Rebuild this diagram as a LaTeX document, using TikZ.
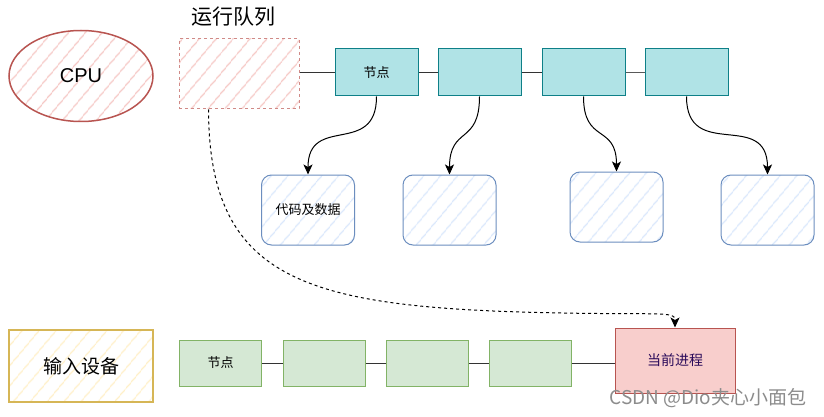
\documentclass[tikz,border=0pt]{standalone}
\usepackage{fontspec}
\setmainfont{Liberation Sans}
\newfontfamily\cjk{Noto Sans CJK SC}
\usetikzlibrary{shapes.geometric,patterns.meta,arrows.meta}

\definecolor{rotrand}{HTML}{B85450}
\definecolor{rotfill}{HTML}{F8CECC}
\definecolor{rothatch}{HTML}{F6C8C5}
\definecolor{rotstrich}{HTML}{D08A87}
\definecolor{tuerkisrand}{HTML}{0E8088}
\definecolor{tuerkisfill}{HTML}{B0E3E6}
\definecolor{blaurand}{HTML}{6C8EBF}
\definecolor{blauhatch}{HTML}{DAE8FC}
\definecolor{gruenrand}{HTML}{82B366}
\definecolor{gruenfill}{HTML}{D5E8D4}
\definecolor{gelbrand}{HTML}{D6B656}
\definecolor{gelbhatch}{HTML}{FFF0C8}
\definecolor{lila}{HTML}{2A0A5A}

\tikzset{
  schraffur/.style={pattern={Lines[angle=50,distance=13pt,line width=1.3pt]}, pattern color=#1},
  knoten/.style={draw=tuerkisrand, fill=tuerkisfill, line width=1pt, minimum width=83pt, minimum height=47pt, inner sep=0pt, font=\cjk\fontsize{13pt}{15pt}\selectfont},
  gknoten/.style={draw=gruenrand, fill=gruenfill, line width=1pt, minimum width=82pt, minimum height=46pt, inner sep=0pt, font=\cjk\fontsize{13pt}{15pt}\selectfont},
  daten/.style={draw=blaurand, schraffur=blauhatch, rounded corners=10pt, line width=1pt, minimum width=93pt, minimum height=70pt, inner sep=0pt, font=\cjk\fontsize{13pt}{15pt}\selectfont},
  verbindung/.style={draw=black!80, line width=1pt},
  pfeil/.style={draw=black, line width=1pt, -{Stealth[length=10pt,width=9pt,inset=2.5pt]}},
}

\begin{document}
\begin{tikzpicture}[x=1pt,y=-1pt]
        % Rahmen
        \fill[white] (0,0) rectangle (824,417);
        \useasboundingbox (0,0) rectangle (824,417);

        % zeichne CPU und Laufwarteschlange
        \node[ellipse, draw=rotrand, line width=1.5pt, schraffur=rothatch, minimum width=144pt, minimum height=91pt, inner sep=0pt, font=\fontsize{20pt}{24pt}\selectfont] (cpu) at (81,76) {CPU};
        \node[font=\cjk\fontsize{21pt}{25pt}\selectfont] (titel) at (233,17) {运行队列};
        \node[draw=rotstrich, dash pattern=on 3pt off 3pt, line width=1pt, schraffur=rothatch, minimum width=120pt, minimum height=70pt, inner sep=0pt] (rq) at (239,74) {};

        % zeichne Knoten oben
        \node[knoten] (k1) at (376.5,72.5) {节点};
        \node[knoten] (k2) at (479.5,72.5) {};
        \node[knoten] (k3) at (583.5,72.5) {};
        \node[knoten] (k4) at (686.5,72.5) {};

        \draw[verbindung] (rq.east |- k1) -- (k1.west);
        \draw[verbindung] (k1.east) -- (k2.west);
        \draw[verbindung] (k2.east) -- (k3.west);
        \draw[verbindung, line width=1.8pt, draw=black!65] (k3.east) -- (k4.west);

        % zeichne Daten
        \node[daten] (d1) at (308,210) {代码及数据};
        \node[daten] (d2) at (449.5,210) {};
        \node[daten] (d3) at (616.5,207) {};
        \node[daten] (d4) at (767.5,210) {};

        \draw[pfeil] (k1.south) to[out=-90,in=90,looseness=1.5] (d1.north);
        \draw[pfeil] (k2.south) to[out=-90,in=90,looseness=1.5] (d2.north);
        \draw[pfeil] (k3.south) to[out=-90,in=90,looseness=1.5] (d3.north);
        \draw[pfeil] (k4.south) to[out=-90,in=90,looseness=1.5] (d4.north);

        % zeichne Eingabegeraet und Warteschlange unten
        \node[draw=gelbrand, line width=2pt, schraffur=gelbhatch, minimum width=144pt, minimum height=72pt, inner sep=0pt, font=\cjk\fontsize{19pt}{23pt}\selectfont] (ein) at (81,366) {输入设备};
        \node[gknoten] (g1) at (220.5,363) {节点};
        \node[gknoten] (g2) at (324,363) {};
        \node[gknoten] (g3) at (427,363) {};
        \node[gknoten] (g4) at (530,363) {};
        \node[draw=rotrand, fill=rotfill, line width=1pt, minimum width=120pt, minimum height=65pt, inner sep=0pt, text=lila, font=\cjk\fontsize{14pt}{17pt}\selectfont] (cur) at (675,360.5) {当前进程};

        \draw[verbindung] (g1.east) -- (g2.west);
        \draw[verbindung] (g2.east) -- (g3.west);
        \draw[verbindung] (g3.east) -- (g4.west);
        \draw[verbindung] (g4.east) -- (g4 -| cur.west);

        % Prozess wandert in die Warteschlange
        \coordinate (rqfuss) at ([xshift=30pt]rq.south west);
        \draw[pfeil, dash pattern=on 3pt off 3pt] (rqfuss) .. controls (209,275) and (300,305) .. (520,312) .. controls (660,316) and (675,310) .. (cur.north);

        % Wasserzeichen
        \node[anchor=east, text=black!45, font=\cjk\fontsize{19pt}{22pt}\selectfont] (wz) at (810,398) {CSDN @Dio夹心小面包};
    \end{tikzpicture}
\end{document}
